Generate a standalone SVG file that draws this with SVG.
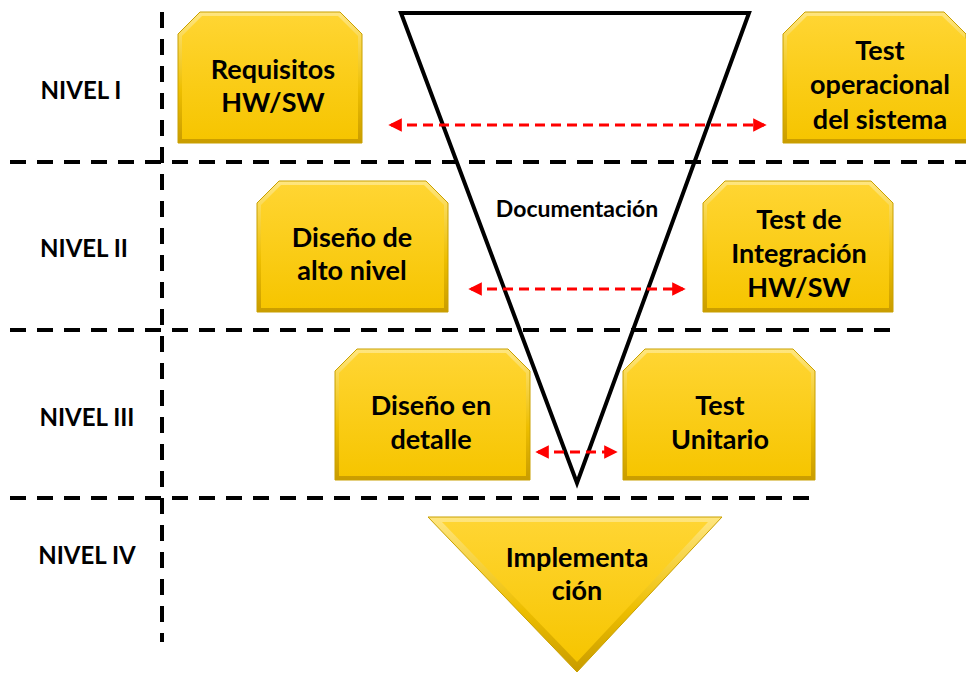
<svg xmlns="http://www.w3.org/2000/svg" width="966" height="675" viewBox="0 0 966 675">
<defs>
<linearGradient id="gOut" x1="0" y1="0" x2="0" y2="1">
<stop offset="0" stop-color="#FFE680"/>
<stop offset="0.6" stop-color="#EDBE00"/>
<stop offset="1" stop-color="#C99C00"/>
</linearGradient>
<linearGradient id="gIn" x1="0" y1="0" x2="0" y2="1">
<stop offset="0" stop-color="#FFD532"/>
<stop offset="1" stop-color="#F6C500"/>
</linearGradient>
<marker id="ah" viewBox="0 0 10 10" refX="8" refY="5" markerWidth="4.5" markerHeight="4.5" orient="auto-start-reverse" markerUnits="strokeWidth">
<path d="M0,0 L10,5 L0,10 Z" fill="#FF0000"/>
</marker>
</defs>
<style>
.outer{fill:url(#gOut);stroke:#C9A000;stroke-width:1}
.inner{fill:url(#gIn)}
.bt{font-family:Lato,"Liberation Sans",sans-serif;font-weight:bold;font-size:27px;fill:#000;text-anchor:middle}
.lv{font-family:Lato,"Liberation Sans",sans-serif;font-weight:bold;font-size:24px;fill:#000;text-anchor:middle}
.dl{stroke:#000;stroke-width:4;stroke-dasharray:16 11;fill:none}
.ar{stroke:#FF0000;stroke-width:3;stroke-dasharray:10 6;fill:none;marker-start:url(#ah);marker-end:url(#ah)}
</style>
<rect width="966" height="675" fill="#FFFFFF"/>
<g id="grid">
<line class="dl" x1="10" y1="162" x2="966" y2="162"/>
<line class="dl" x1="10" y1="330" x2="900" y2="330"/>
<line class="dl" x1="10" y1="498" x2="820" y2="498"/>
<line class="dl" x1="162" y1="12" x2="162" y2="642"/>
</g>
<g id="levels">
<text class="lv" x="81" y="99">NIVEL I</text>
<text class="lv" x="84" y="257">NIVEL II</text>
<text class="lv" x="87" y="426">NIVEL III</text>
<text class="lv" x="87" y="564">NIVEL IV</text>
</g>
<g id="n-requisitos">
<path class="outer" d="M200,12 H340 L362,34 V143 H178 V34 Z"/>
<path class="inner" d="M202,16 H338 L358,36 V139 H182 V36 Z"/>
<text class="bt" x="273" y="79">Requisitos</text>
<text class="bt" x="273" y="112">HW/SW</text>
</g>
<g id="n-test-operacional">
<path class="outer" d="M805,12 H944 L966,34 V143 H783 V34 Z"/>
<path class="inner" d="M807,16 H942 L966,39 V139 H787 V36 Z"/>
<text class="bt" x="880" y="60">Test</text>
<text class="bt" x="880" y="94">operacional</text>
<text class="bt" x="880" y="129">del sistema</text>
</g>
<g id="n-diseno-alto">
<path class="outer" d="M279,181 H426 L448,203 V312 H257 V203 Z"/>
<path class="inner" d="M281,185 H424 L444,205 V308 H261 V205 Z"/>
<text class="bt" x="352" y="247">Diseño de</text>
<text class="bt" x="352" y="280">alto nivel</text>
</g>
<g id="n-test-integracion">
<path class="outer" d="M725,181 H871 L893,203 V312 H703 V203 Z"/>
<path class="inner" d="M727,185 H869 L889,205 V308 H707 V205 Z"/>
<text class="bt" x="799" y="229">Test de</text>
<text class="bt" x="799" y="263">Integración</text>
<text class="bt" x="799" y="297">HW/SW</text>
</g>
<g id="n-diseno-detalle">
<path class="outer" d="M357,349 H508 L530,371 V480 H335 V371 Z"/>
<path class="inner" d="M359,353 H506 L526,373 V476 H339 V373 Z"/>
<text class="bt" x="431" y="415">Diseño en</text>
<text class="bt" x="431" y="449">detalle</text>
</g>
<g id="n-test-unitario">
<path class="outer" d="M645,349 H793 L815,371 V480 H623 V371 Z"/>
<path class="inner" d="M647,353 H791 L811,373 V476 H627 V373 Z"/>
<text class="bt" x="720" y="415">Test</text>
<text class="bt" x="720" y="449">Unitario</text>
</g>
<g id="n-documentacion">
<polygon points="401,13 749,13 577,483" fill="none" stroke="#000" stroke-width="4" stroke-linejoin="miter"/>
<text class="lv" x="577" y="217" style="font-size:23px">Documentación</text>
</g>
<g id="n-implementacion">
<polygon class="outer" points="428,517 722,517 577,672"/>
<polygon class="inner" points="442,522 708,522 577,662"/>
<text class="bt" x="577" y="567">Implementa</text>
<text class="bt" x="577" y="600">ción</text>
</g>
<g id="connectors">
<line class="ar" x1="391" y1="125" x2="764" y2="125"/>
<line class="ar" x1="471" y1="289" x2="683" y2="289"/>
<line class="ar" x1="538" y1="452" x2="615" y2="452"/>
</g>
</svg>
